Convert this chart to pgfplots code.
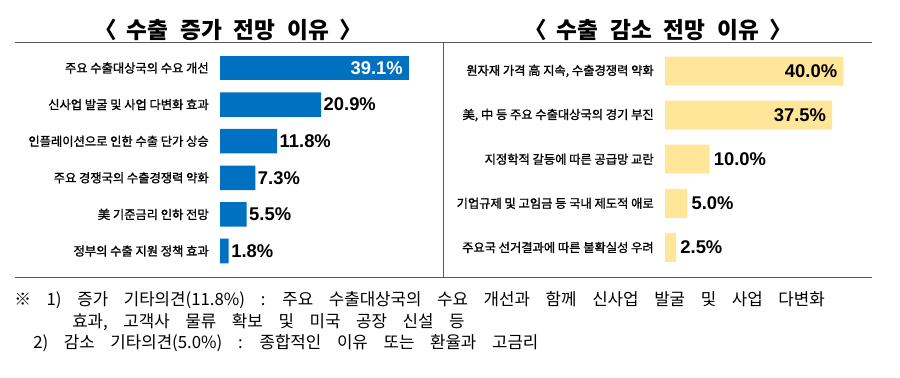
\documentclass[border=0pt]{standalone}
\usepackage{pgfplots}
\pgfplotsset{compat=1.18}
\usepackage{fontspec}
\setmainfont{Liberation Sans}
\newfontfamily\kr{Noto Sans CJK KR}
\newfontfamily\krl[FakeBold=1.2]{Noto Sans CJK KR}
\definecolor{barblue}{HTML}{0070C0}
\definecolor{baryellow}{HTML}{FFE699}
\definecolor{linegray}{HTML}{595959}
\newcommand\fnsp{\spaceskip=0.93em plus 0.1em\relax}
\pgfplotsset{
  panel/.style={
    scale only axis, clip=false, xbar, bar shift=0pt,
    xmin=0, xmax=40, y dir=reverse,
    axis line style={draw=none}, tick style={draw=none},
    xtick=\empty,
    yticklabel style={font=\krl\fontsize{9.2}{10}\selectfont, anchor=east, inner sep=0pt, xshift=-4pt},
    point meta=x,
    /pgf/number format/assume math mode=true,
    nodes near coords={\pgfmathprintnumber[fixed,fixed zerofill,precision=1,assume math mode=true]{\pgfplotspointmeta}\%},
    every node near coord/.append style={font=\bfseries\fontsize{13.8}{14}\selectfont, inner sep=0pt},
  },
}
\begin{document}
\begin{tikzpicture}[x=0.75pt,y=-0.75pt]
\path (0,0) rectangle (900,378);
\coordinate (LA) at (220,49.7);
\coordinate (RA) at (665,48.95);
% titles
\node[font=\kr\bfseries\fontsize{17}{19}\selectfont, inner sep=0pt] at (228,30) {〈\hskip0.45em 수출\hskip0.52em 증가\hskip0.52em 전망\hskip0.52em 이유\hskip0.45em 〉};
\node[font=\kr\bfseries\fontsize{17}{19}\selectfont, inner sep=0pt] at (658,30) {〈\hskip0.45em 수출\hskip0.52em 감소\hskip0.52em 전망\hskip0.52em 이유\hskip0.45em 〉};
% frame lines
\draw[linegray, line width=1.2pt] (15,42.5) -- (872,42.5);
\draw[linegray, line width=1.2pt] (15,277.5) -- (872,277.5);
\draw[linegray, line width=0.8pt] (443.5,42.5) -- (443.5,277.5);

% left panel
\begin{axis}[panel, at={(LA)}, anchor=north west,
  width=145pt, height=164.7pt, ymin=0.5, ymax=6.5, bar width=18.4pt,
  ytick={1,2,3,4,5,6},
  yticklabels={주요 수출대상국의 수요 개선, 신사업 발굴 및 사업 다변화 효과, 인플레이션으로 인한 수출 단가 상승, 주요 경쟁국의 수출경쟁력 약화, 美 기준금리 인하 전망, 정부의 수출 지원 정책 효과}]
\addplot[fill=barblue, draw=none,
  every node near coord/.append style={anchor=east, text=white, xshift=-4.5pt}]
  coordinates {(39.1,1)};
\addplot[fill=barblue, draw=none,
  every node near coord/.append style={anchor=west, text=black, xshift=1.8pt}]
  coordinates {(20.9,2) (11.8,3) (7.3,4) (5.5,5) (1.8,6)};
\end{axis}

% right panel
\begin{axis}[panel, at={(RA)}, anchor=north west,
  width=133.8pt, height=165.4pt, ymin=0.5, ymax=5.5, bar width=21.75pt,
  ytick={1,2,3,4,5},
  yticklabels={{원자재 가격 高 지속, 수출경쟁력 약화}, {美, 中 등 주요 수출대상국의 경기 부진}, 지정학적 갈등에 따른 공급망 교란, 기업규제 및 고임금 등 국내 제도적 애로, 주요국 선거결과에 따른 불확실성 우려}]
\addplot[fill=baryellow, draw=none,
  every node near coord/.append style={anchor=east, text=black, xshift=-4.5pt}]
  coordinates {(40.0,1) (37.5,2)};
\addplot[fill=baryellow, draw=none,
  every node near coord/.append style={anchor=west, text=black, xshift=3pt}]
  coordinates {(10.0,3) (5.0,4) (2.5,5)};
\end{axis}

% footnotes
\begin{scope}[every node/.style={anchor=west, inner sep=0pt, font=\kr\fontsize{12.6}{14}\selectfont}]
\node at (14,300) {\fnsp ※ 1) 증가 기타의견(11.8\%) : 주요 수출대상국의 수요 개선과 함께 신사업 발굴 및 사업 다변화};
\node at (72,322.5) {\fnsp 효과, 고객사 물류 확보 및 미국 공장 신설 등};
\node at (33,343) {\fnsp 2) 감소 기타의견(5.0\%) : 종합적인 이유 또는 환율과 고금리};
\end{scope}
\end{tikzpicture}
\end{document}
